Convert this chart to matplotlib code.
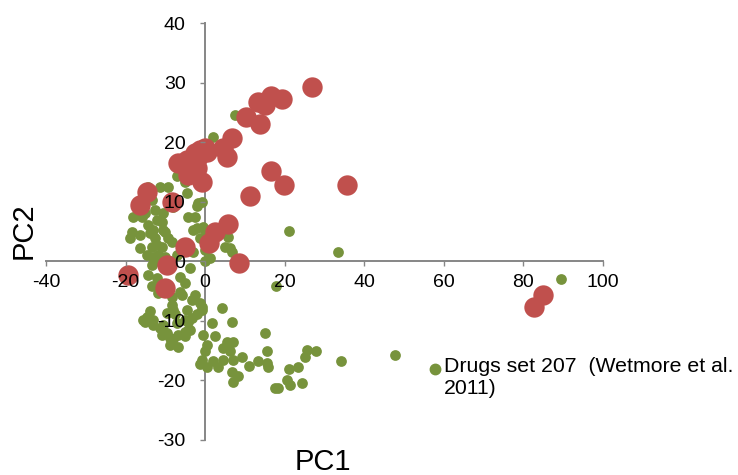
import matplotlib
matplotlib.use("Agg")
import matplotlib.pyplot as plt
from matplotlib.lines import Line2D

plt.rcParams['font.family'] = ['Liberation Sans', 'DejaVu Sans']
plt.rcParams['axes.unicode_minus'] = False

# Drugs set 207 (Wetmore et al. 2011) - small green points
green_pc1 = [7.5, 2.0, -7.0, -5.0, -5.8, -4.5, -1.8, -2.0, -4.3, -2.5, -3.0, 0.0, -2.0, -1.3, -3.0, 0.0, 0.0, 1.3,
             5.8, 6.3, 21.1, 33.4, 89.4, -0.8, -0.5, 5.0, 6.8,
             -14.3, -11.3, -9.3, -13.3, -12.6, -18.1, -15.8, -15.1, -10.6, -8.0, -12.1, -14.3, -10.8, -18.3, -16.3,
             -18.8, -13.8, -12.6, -10.1, -9.3, -13.1, -10.6, -16.3, -13.3, -10.8, -8.3, -12.1, -14.6, -11.8, -7.0,
             -8.8, -12.6, -13.1, -10.1,
             -13.3, -14.3, -12.1, -3.8, -5.0, -6.3, -6.3, -13.3, -11.8, -8.3, -5.8, -2.5, -3.3, -1.3, -0.8, -0.8,
             -8.3, -9.5, -8.0, -4.5, -7.5, -3.3, -2.0, -5.0, -7.0, -13.8, -14.6, -15.6, -13.1, -15.1, -13.1, -10.6,
             -11.3, -4.3, -4.3, -9.5, -10.8, -8.8, -8.0, -5.0, -6.8, -5.0, -8.8, -6.8,
             4.3, 1.8, 6.8, -3.8, -0.5, 2.5, 15.1, 5.5, 7.0, 0.5, 0.0, 4.5, 6.3, 15.6, 25.6, 27.9, 25.1, 4.5, 7.0,
             9.3, -0.8, 2.0, -1.3, 0.5, 3.3, 11.1, 13.3, 15.6, 15.8, 34.2, 47.7, 21.1, 23.4, 6.8, 8.3, 7.0, 20.6,
             21.4, 24.4, 17.6, 18.3, 17.8]
green_pc2 = [24.6, 20.9, 14.4, 13.4, 15.7, 11.5, 9.9, 9.3, 7.5, 7.5, 5.3, 5.3, 5.7, 4.0, 1.6, 2.0, 0.0, 0.6,
             4.1, 2.3, 5.1, 1.6, -2.9, 10.0, 5.8, 2.5, 1.6,
             12.5, 12.5, 12.5, 10.4, 8.7, 7.5, 7.5, 8.2, 8.2, 9.2, 7.0, 6.2, 6.7, 5.0, 4.5,
             4.0, 4.8, 4.0, 5.0, 4.0, 5.3, 5.3, 2.3, 2.5, 2.5, 3.3, 2.8, 1.1, 1.1, 1.1,
             0.0, 0.0, 0.8, 0.8,
             -0.6, -2.2, -2.7, -1.1, -3.6, -2.6, -5.1, -4.2, -5.3, -5.9, -5.6, -5.6, -6.4, -6.9, -8.1, -7.6,
             -7.3, -8.6, -8.1, -8.1, -8.9, -9.5, -8.9, -9.8, -10.3, -8.4, -9.3, -9.8, -9.8, -10.1, -10.6, -10.6,
             -11.1, -11.5, -10.1, -12.0, -12.3, -12.8, -13.1, -12.6, -12.3, -11.8, -14.0, -14.3,
             -7.8, -10.3, -10.1, -11.5, -12.3, -12.6, -12.0, -13.5, -13.6, -14.0, -15.1, -14.5, -15.1, -15.1, -14.8,
             -15.1, -16.1, -16.5, -16.5,
             -16.1, -16.5, -16.8, -17.3, -17.8, -17.8, -17.5, -16.7, -17.0, -17.7, -16.7, -15.8, -18.0, -17.8,
             -18.5, -19.3, -20.2, -20.0,
             -20.7, -20.5, -21.3, -21.2, -4.1]

# second set - large red points
red_pc1 = [26.9, 13.3, 16.6, 19.3, 15.1, 10.3, 13.8, 6.8, 4.5, 5.5, 0.0, -1.3, -2.5, 0.5, -6.8, -4.5, -1.8,
           -3.3, -2.0, -0.8, -4.3, 16.6, 19.8, 35.7, 11.3, -14.6, -16.3, -8.3, 5.8, 2.5, 1.0, 8.5, -5.0, -9.5,
           -10.1, -19.3, 84.9, 82.7]
red_pc2 = [29.3, 26.8, 27.8, 27.3, 26.3, 24.3, 23.1, 20.8, 19.1, 17.6, 19.1, 18.7, 18.2, 18.4, 16.6, 17.1, 17.6,
           14.9, 15.7, 13.4, 14.5, 15.2, 12.9, 12.9, 11.0, 11.7, 9.5, 10.0, 6.3, 5.0, 3.1, -0.2, 2.5, -0.6,
           -4.4, -2.2, -5.7, -7.7]

x_ticks = [-40, -20, 0, 20, 40, 60, 80, 100]
y_ticks = [-30, -20, -10, 0, 10, 20, 30, 40]

green = '#77933C'
red = '#C0504D'
axis_gray = '#868686'

fig = plt.figure(figsize=(7.38, 4.75), dpi=100)
ax = fig.add_axes([0.0623, 0.0737, 0.7547, 0.877])

ax.scatter(green_pc1, green_pc2, s=60, color=green, linewidths=0, zorder=3)
ax.scatter(red_pc1, red_pc2, s=215, color=red, linewidths=0, zorder=4)

ax.set_xlim(-40, 100)
ax.set_ylim(-30, 40)
ax.set_xticks(x_ticks)
ax.set_yticks(y_ticks)

ax.spines['left'].set_position(('data', 0))
ax.spines['bottom'].set_position(('data', 0))
ax.spines['top'].set_visible(False)
ax.spines['right'].set_visible(False)
for side in ['left', 'bottom']:
    ax.spines[side].set_color(axis_gray)
    ax.spines[side].set_linewidth(1.4)
    ax.spines[side].set_zorder(1)

# tick labels are drawn above the markers, axis lines below
ax.xaxis.set_zorder(5)
ax.yaxis.set_zorder(5)

ax.tick_params(axis='x', direction='out', length=3.6, width=1, color=axis_gray, pad=5.5, labelsize=14)
ax.tick_params(axis='y', direction='out', length=3.6, width=1, color=axis_gray, pad=10.5, labelsize=14)

fig.text(0.437, 0.027, 'PC1', fontsize=21, ha='center', va='center')
fig.text(0.032, 0.514, 'PC2', fontsize=21, ha='center', va='center', rotation=90)

# legend (only the green series is listed)
fig.add_artist(Line2D([0.5894], [0.2232], marker='o', markersize=7.5, color=green,
                      linestyle='none', transform=fig.transFigure))
fig.text(0.602, 0.248, 'Drugs set 207  (Wetmore et al.\n2011)', fontsize=15.3,
         ha='left', va='top', linespacing=1.2)

fig.savefig('out.png', dpi=100)
